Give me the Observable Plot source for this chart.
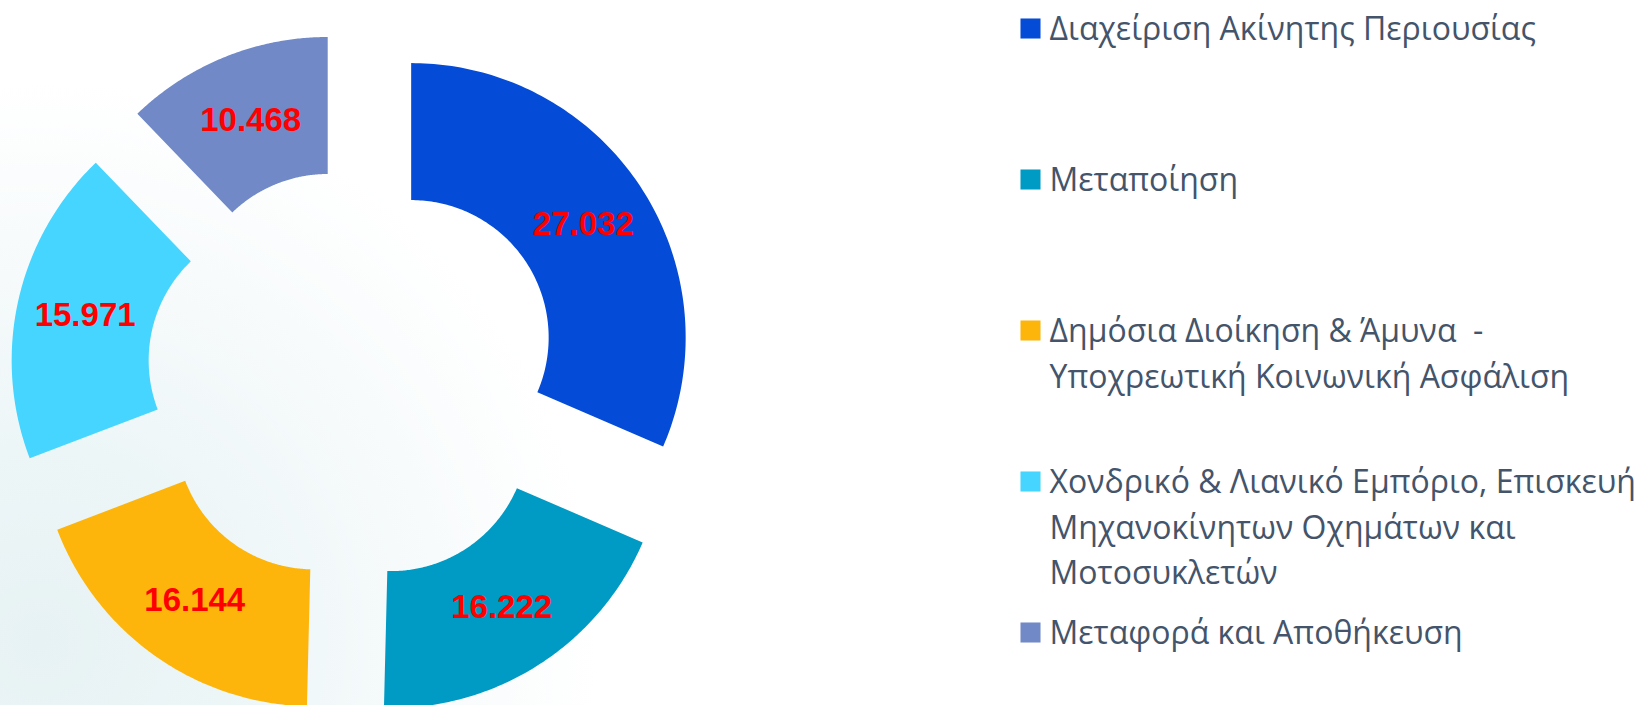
<!DOCTYPE html>
<html>
<head>
<meta charset="utf-8">
<script src="https://cdn.jsdelivr.net/npm/d3@7"></script>
<script src="https://cdn.jsdelivr.net/npm/@observablehq/plot@0.6"></script>
<style>
  html, body { margin: 0; padding: 0; }
  body {
    width: 1647px; height: 705px; overflow: hidden;
    background:
      radial-gradient(circle 560px at 40px 640px, #e7f2f4 0%, #edf6f7 35%, #f6fafb 65%, rgba(255,255,255,0) 100%),
      #ffffff;
  }
  #chart svg { display: block; background: transparent; }
</style>
</head>
<body>
<div id="chart"></div>
<script>
// ---- data ----
const categories = [
  "Διαχείριση Ακίνητης Περιουσίας",
  "Μεταποίηση",
  "Δημόσια Διοίκηση & Άμυνα  -\nΥποχρεωτική Κοινωνική Ασφάλιση",
  "Χονδρικό & Λιανικό Εμπόριο, Επισκευή\nΜηχανοκίνητων Οχημάτων και\nΜοτοσυκλετών",
  "Μεταφορά και Αποθήκευση"
];
const values = [27032, 16222, 16144, 15971, 10468];
const colors = ["#044bd7", "#009bc4", "#fdb50c", "#45d5fe", "#7189c6"];

// ---- layout ----
const W = 1647, H = 705;
const cx = 353, cy = 375;          // donut centre
const rIn = 137.5, rOut = 274.5;   // radii
const explode = 69;                // radial offset of each slice

const fmt = d3.formatLocale({decimal: ",", thousands: ".", grouping: [3]}).format(",d");

const pie = d3.pie().sort(null).startAngle(0).endAngle(2 * Math.PI);
const arcs = pie(values);

const slicePts = [];
const labels = [];
arcs.forEach((a, i) => {
  const mid = (a.startAngle + a.endAngle) / 2;
  const ox = cx + explode * Math.sin(mid);
  const oy = cy - explode * Math.cos(mid);
  const n = 120;
  for (let k = 0; k <= n; k++) {
    const t = a.startAngle + (a.endAngle - a.startAngle) * k / n;
    slicePts.push({cat: categories[i], x: ox + rOut * Math.sin(t), y: oy - rOut * Math.cos(t)});
  }
  for (let k = n; k >= 0; k--) {
    const t = a.startAngle + (a.endAngle - a.startAngle) * k / n;
    slicePts.push({cat: categories[i], x: ox + rIn * Math.sin(t), y: oy - rIn * Math.cos(t)});
  }
  const rm = (rIn + rOut) / 2;
  labels.push({text: fmt(values[i]), x: ox + rm * Math.sin(mid), y: oy - rm * Math.cos(mid)});
});

const legendX = 1030, legendY0 = 28, legendStep = 151;
const legend = categories.map((c, i) => ({cat: c, y: legendY0 + i * legendStep}));
const lfs = 32, llh = 1.43;
// baseline of first line = y + cap/2 ; Plot "top" puts it at y + dy + 0.71*lineHeight*fontSize
const ldy = 0.357 * lfs - 0.71 * llh * lfs;

const chart = Plot.plot({
  width: W, height: H,
  margin: 0,
  x: {domain: [0, W], range: [0, W], axis: null},
  y: {domain: [0, H], range: [0, H], axis: null},
  color: {domain: categories, range: colors},
  style: {background: "transparent"},
  marks: [
    Plot.line(slicePts, {x: "x", y: "y", z: "cat", fill: "cat", stroke: null, curve: "linear-closed"}),
    Plot.text(labels, {
      x: "x", y: "y", text: "text", fill: "#ff0000",
      fontSize: 33, fontWeight: "bold", fontFamily: "Liberation Sans, Arial, sans-serif"
    }),
    Plot.dot(legend, {x: () => legendX, y: "y", symbol: "square", r: 11.3, fill: "cat", stroke: null}),
    Plot.text(legend, {
      x: () => legendX + 19, y: "y", text: "cat", textAnchor: "start", lineAnchor: "top",
      dy: ldy, lineHeight: llh, fill: "#44546a",
      fontSize: lfs, fontFamily: "Open Sans, sans-serif"
    })
  ]
});
document.getElementById("chart").appendChild(chart);
</script>
</body>
</html>
